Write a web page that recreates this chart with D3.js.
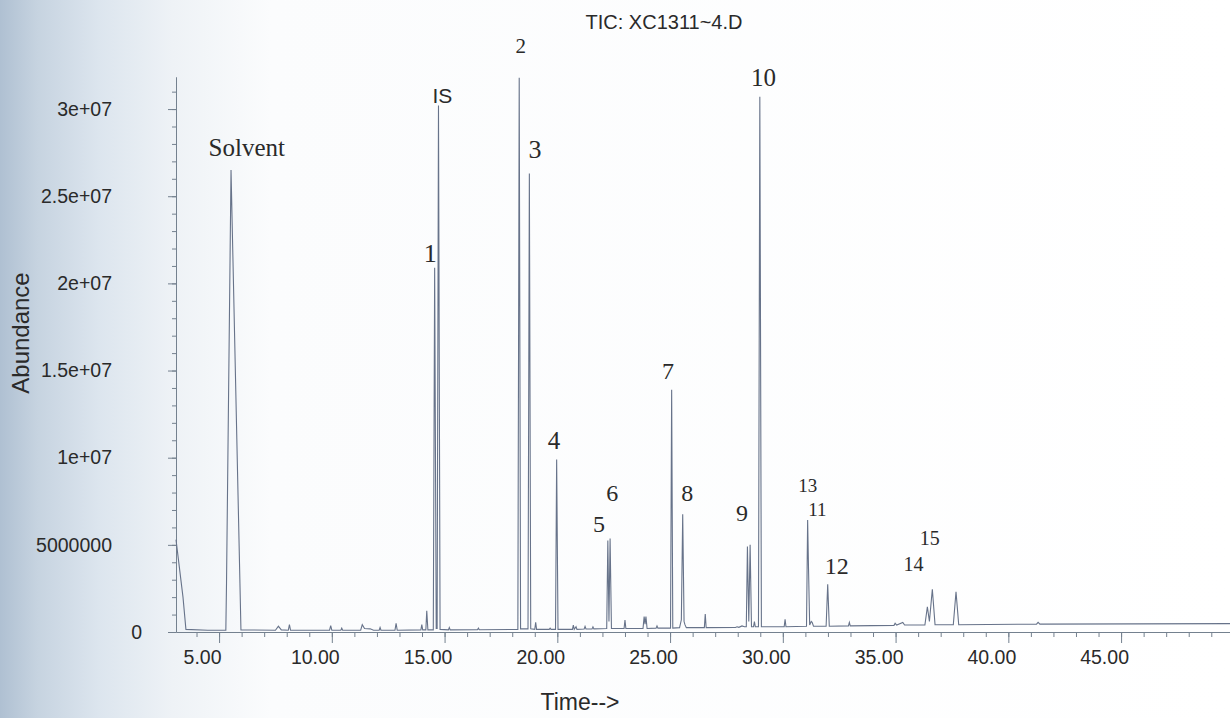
<!DOCTYPE html>
<html>
<head>
<meta charset="utf-8">
<script src="https://cdn.jsdelivr.net/npm/d3@7"></script>
<style>
body { margin: 0; background: #ffffff; }
svg { display: block; }
</style>
</head>
<body>
<script>
const svgWidth = 1230;
const svgHeight = 718;

// retention time (min) and abundance (millions)
const traceTime = [
  3.09, 3.40, 3.53, 4.50, 5.30, 5.33, 5.53, 5.97,
  7.50, 7.63, 7.76, 8.07, 8.12, 8.17, 9.90, 9.95, 10.00, 10.40, 10.44, 10.48,
  11.28, 11.35, 11.45, 11.70, 11.85, 12.10, 12.14, 12.18, 12.80, 12.85, 12.90,
  13.95, 13.99, 14.03, 14.17, 14.21, 14.26,
  14.50, 14.56, 14.63, 14.67, 14.73, 14.80,
  15.17, 15.21, 15.25, 16.46, 16.50, 16.54,
  18.25, 18.31, 18.37, 18.70, 18.76, 18.82,
  19.00, 19.04, 19.08, 19.64, 19.68, 19.72, 19.92, 19.97, 20.03,
  20.67, 20.71, 20.75, 20.83, 20.87, 21.19, 21.23, 21.27, 21.54, 21.58, 21.62,
  22.19, 22.24, 22.29, 22.34, 22.40, 22.96, 23.00, 23.04,
  23.80, 23.85, 23.89, 23.93, 23.98, 24.38, 24.42, 24.46,
  25.02, 25.07, 25.12, 25.42, 25.50, 25.56, 25.62, 25.66, 25.72,
  26.52, 26.56, 26.60, 27.90, 27.97, 28.05, 28.19, 28.30,
  28.38, 28.43, 28.49, 28.55, 28.61, 28.70, 28.74, 28.78,
  28.92, 28.98, 29.05, 30.06, 30.10, 30.14,
  31.05, 31.10, 31.14, 31.19, 31.26, 31.30, 31.36,
  31.92, 31.99, 32.06, 32.91, 32.95, 32.99,
  34.93, 34.98, 35.05, 35.32, 35.40,
  36.30, 36.41, 36.50, 36.63, 36.75, 37.56, 37.68, 37.80,
  41.25, 41.32, 41.40, 49.83
];
const traceAbund = [
  5.3, 2.0, 0.15, 0.1, 0.1, 2.8, 26.5, 0.12,
  0.1, 0.34, 0.12, 0.1, 0.42, 0.1, 0.1, 0.36, 0.1, 0.1, 0.22, 0.1,
  0.1, 0.42, 0.2, 0.18, 0.1, 0.1, 0.26, 0.1, 0.1, 0.5, 0.1,
  0.12, 0.42, 0.12, 0.12, 1.22, 0.12,
  0.12, 20.9, 0.2, 0.2, 30.2, 0.15,
  0.12, 0.26, 0.12, 0.13, 0.22, 0.13,
  0.15, 31.8, 0.18, 0.18, 26.3, 0.18,
  0.15, 0.56, 0.15, 0.15, 0.22, 0.15, 0.15, 9.9, 0.15,
  0.15, 0.4, 0.15, 0.3, 0.15, 0.17, 0.32, 0.17, 0.18, 0.3, 0.18,
  0.2, 5.25, 0.6, 5.37, 0.2, 0.2, 0.69, 0.2,
  0.2, 0.88, 0.45, 0.88, 0.2, 0.22, 0.35, 0.22,
  0.22, 13.9, 0.22, 0.25, 0.7, 6.75, 0.6, 0.42, 0.25,
  0.25, 1.03, 0.25, 0.26, 0.3, 0.27, 0.35, 0.3,
  0.3, 4.9, 0.6, 5.0, 0.3, 0.3, 0.6, 0.3,
  0.3, 30.7, 0.3, 0.3, 0.73, 0.3,
  0.33, 6.43, 3.6, 0.4, 0.6, 0.55, 0.33,
  0.33, 2.74, 0.33, 0.35, 0.55, 0.35,
  0.38, 0.5, 0.4, 0.55, 0.4,
  0.4, 1.45, 0.6, 2.45, 0.42, 0.42, 2.31, 0.42,
  0.45, 0.55, 0.45, 0.48
];

const peakNames = ["Solvent", "IS", "1", "2", "3", "4", "5", "6", "7", "8", "9", "10", "13", "11", "12", "14", "15"];
const peakLabelTime = [6.23, 14.90, 14.37, 18.38, 19.01, 19.85, 21.85, 22.44, 24.91, 25.76, 28.19, 29.14, 31.10, 31.53, 32.39, 35.79, 36.51];
const peakLabelAbund = [27.8, 30.8, 21.7, 33.6, 27.7, 11.0, 6.2, 8.0, 15.0, 8.0, 6.8, 31.8, 8.4, 7.0, 3.8, 3.9, 5.4];
const peakLabelSize = [25, 21, 26, 21, 26, 25, 24, 24, 24, 24, 24, 25, 19, 19, 24, 20, 20];

const yTickValues = [0, 5, 10, 15, 20, 25, 30];
const yTickLabels = ["0", "5000000", "1e+07", "1.5e+07", "2e+07", "2.5e+07", "3e+07"];
const xTickValues = [5, 10, 15, 20, 25, 30, 35, 40, 45];

const axisColor = "#74818f";
const traceColor = "#67738a";
const textColor = "#2a2a2a";

const svgContainer = d3.select("body")
.append("svg")
.attr("width", svgWidth)
.attr("height", svgHeight);

// scanned paper shading on the left edge
const grad = svgContainer.append("defs")
.append("linearGradient")
.attr("id", "paper")
.attr("x1", "0%").attr("x2", "100%")
.attr("y1", "0%").attr("y2", "0%");
[["0%", "#afc0d2"], ["3%", "#c6d3e0"], ["8%", "#dce5ee"], ["14%", "#eef2f6"], ["22%", "#fbfcfd"], ["100%", "#ffffff"]]
.forEach(s => grad.append("stop").attr("offset", s[0]).attr("stop-color", s[1]));

svgContainer.append("rect")
.attr("width", svgWidth)
.attr("height", svgHeight)
.attr("fill", "url(#paper)");

const x = d3.scaleLinear().domain([3.09, 49.83]).range([176, 1230]);
const y = d3.scaleLinear().domain([0, 31.84]).range([632, 77]);

// y axis, minor then major
svgContainer.append("g")
.attr("transform", "translate(176,0)")
.call(d3.axisLeft(y).tickValues(d3.range(0, 32, 1)).tickSize(4).tickSizeOuter(0).tickFormat(""))
.call(g => g.selectAll("line,path").attr("stroke", axisColor));

const yAxis = svgContainer.append("g")
.attr("transform", "translate(176,0)")
.call(d3.axisLeft(y).tickValues(yTickValues).tickSize(8).tickSizeOuter(0)
  .tickFormat((d, i) => yTickLabels[i]));
yAxis.selectAll("line,path").attr("stroke", axisColor);
yAxis.selectAll("text")
.attr("x", d => d === 0 ? -34 : -64)
.attr("fill", textColor)
.style("font-family", "'Liberation Sans', Arial, sans-serif")
.style("font-size", "19.5px");

// x axis
svgContainer.append("g")
.attr("transform", "translate(0,632)")
.call(d3.axisBottom(x).tickValues(d3.range(4, 50, 1)).tickSize(5).tickSizeOuter(0).tickFormat(""))
.call(g => g.selectAll("line,path").attr("stroke", axisColor));

const xAxis = svgContainer.append("g")
.attr("transform", "translate(0,632)")
.call(d3.axisBottom(x).tickValues(xTickValues).tickSize(11).tickSizeOuter(0).tickFormat(d3.format(".2f")));
xAxis.select(".domain").remove();
xAxis.selectAll("line").attr("stroke", axisColor);
xAxis.selectAll("text")
.attr("x", -17)
.attr("y", 18)
.attr("fill", textColor)
.style("font-family", "'Liberation Sans', Arial, sans-serif")
.style("font-size", "19.5px");

// TIC trace
const line = d3.line()
.x((d, i) => x(traceTime[i]))
.y(d => y(d));

svgContainer.append("path")
.datum(traceAbund)
.attr("d", line)
.attr("fill", "none")
.attr("stroke", traceColor)
.attr("stroke-width", 1.1)
.attr("stroke-linejoin", "miter");

// peak labels
svgContainer.selectAll(".peak")
.data(peakNames)
.enter()
.append("text")
.attr("class", "peak")
.attr("x", (d, i) => x(peakLabelTime[i]))
.attr("y", (d, i) => y(peakLabelAbund[i]))
.attr("text-anchor", "middle")
.attr("dominant-baseline", "central")
.attr("fill", textColor)
.style("font-family", d => d === "IS" ? "'Liberation Sans', Arial, sans-serif" : "'Liberation Serif', 'Times New Roman', serif")
.style("font-size", (d, i) => peakLabelSize[i] + "px")
.text(d => d);

svgContainer.append("text")
.attr("x", 664)
.attr("y", 29)
.attr("text-anchor", "middle")
.attr("fill", textColor)
.style("font-family", "'Liberation Sans', Arial, sans-serif")
.style("font-size", "20px")
.text("TIC: XC1311~4.D");

svgContainer.append("text")
.attr("transform", "translate(29,333) rotate(-90)")
.attr("text-anchor", "middle")
.attr("fill", textColor)
.style("font-family", "'Liberation Sans', Arial, sans-serif")
.style("font-size", "24px")
.text("Abundance");

svgContainer.append("text")
.attr("x", 580)
.attr("y", 710)
.attr("text-anchor", "middle")
.attr("fill", textColor)
.style("font-family", "'Liberation Sans', Arial, sans-serif")
.style("font-size", "23px")
.text("Time-->");
</script>
</body>
</html>
